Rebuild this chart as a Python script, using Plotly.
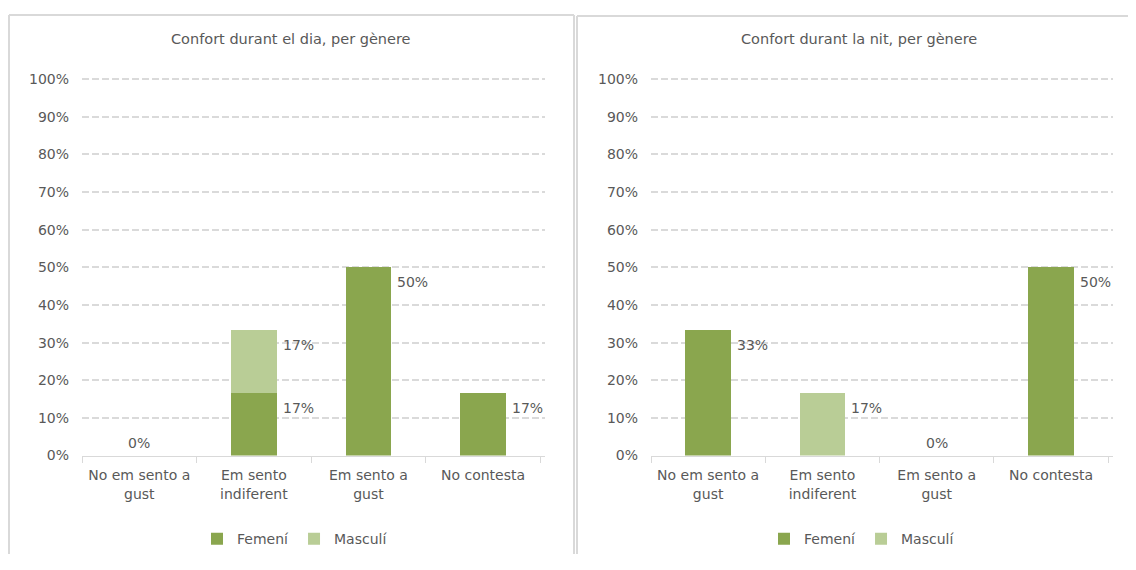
import plotly.graph_objects as go

categories = ["No em sento a<br>gust", "Em sento<br>indiferent", "Em sento a<br>gust", "No contesta"]

dia_femeni = [0, 16.67, 50.0, 16.67]
dia_masculi = [0, 16.67, 0, 0]
nit_femeni = [33.33, 0, 0, 50.0]
nit_masculi = [0, 16.67, 0, 0]

titles = ["Confort durant el dia, per gènere", "Confort durant la nit, per gènere"]
series_names = ["Femení", "Masculí"]
colors = ["#8AA64E", "#B9CD96"]
yticks = list(range(0, 101, 10))
ytick_text = [f"{v}%" for v in yticks]

FONT = "DejaVu Sans"
FS = 14
TXT = "#595959"
OFF = 8
W, H = 1136 - 2 * OFF, 570 - 2 * OFF
# vertical mapping observed in the photographed page
OY, SY = 12.5, 0.979

def px(x_img):
    return max(0.0, min(1.0, (x_img - OFF) / W))

def py(y_img):
    return max(0.0, min(1.0, 1 - ((y_img - OY) / SY) / H))

fig = go.Figure()

panels = [
    dict(data=[dia_femeni, dia_masculi], xa="x", ya="y", legend="legend", dom=[px(82), px(545)]),
    dict(data=[nit_femeni, nit_masculi], xa="x2", ya="y2", legend="legend2", dom=[px(651), px(1113)]),
]

annotations = []
for pi, p in enumerate(panels):
    for si, vals in enumerate(p["data"]):
        fig.add_trace(go.Bar(
            x=categories, y=vals, name=series_names[si],
            marker=dict(color=colors[si], line=dict(width=0)),
            xaxis=p["xa"], yaxis=p["ya"], legend=p["legend"],
            hoverinfo="skip",
        ))
    fem, mas = p["data"]
    for ci, cat in enumerate(categories):
        total = fem[ci] + mas[ci]
        if total == 0:
            annotations.append(dict(
                x=cat, y=0, xref=p["xa"], yref=p["ya"], text="0%",
                showarrow=False, xanchor="center", yanchor="middle", yshift=13,
                font=dict(family=FONT, size=FS, color=TXT)))
            continue
        cum = 0
        for vals in (fem, mas):
            v = vals[ci]
            cum += v
            if v > 0:
                annotations.append(dict(
                    x=cat, y=cum, xref=p["xa"], yref=p["ya"], text=f"{round(v)}%",
                    showarrow=False, xanchor="left", yanchor="middle",
                    xshift=27, yshift=-15,
                    font=dict(family=FONT, size=FS, color=TXT)))

for t, cx in zip(titles, [291, 859]):
    annotations.append(dict(
        x=px(cx), y=py(38), xref="paper", yref="paper", text=t,
        showarrow=False, xanchor="center", yanchor="middle",
        font=dict(family=FONT, size=14.5, color=TXT)))

axis_common_x = dict(
    type="category", showgrid=False, showline=True, linecolor="#D9D9D9", linewidth=1,
    ticks="outside", tickson="boundaries", ticklen=6, tickcolor="#D9D9D9",
    tickfont=dict(family=FONT, size=FS, color=TXT), fixedrange=True,
    ticklabelstandoff=7, tickangle=0,
)
axis_common_y = dict(
    range=[0, 100.5], tickvals=yticks, ticktext=ytick_text,
    showgrid=True, gridcolor="#DADADA", gridwidth=2, griddash="7px,3px",
    zeroline=False, showline=False, ticks="",
    tickfont=dict(family=FONT, size=FS, color=TXT), fixedrange=True,
    ticklabelstandoff=12,
)
ydom = [py(456), py(456 - 378 * 1.005)]

shapes = []
border = dict(color="#D9D9D9", width=2)
def seg(x0, y0, x1, y1):
    shapes.append(dict(type="line", xref="paper", yref="paper",
                       x0=px(x0), y0=py(y0), x1=px(x1), y1=py(y1), line=border))
seg(9, 13.5, 574, 13.5)
seg(9, 13.5, 9, 575)
seg(574, 13.5, 574, 575)
seg(577, 14.5, 1136, 14.5)
seg(577, 14.5, 577, 575)

legend_common = dict(
    orientation="h", xanchor="center", yanchor="middle", y=py(540),
    font=dict(family=FONT, size=FS, color=TXT), bgcolor="rgba(0,0,0,0)",
    itemwidth=30, traceorder="normal", itemclick=False, itemdoubleclick=False,
)

fig.update_layout(
    width=W, height=H, autosize=False,
    margin=dict(l=0, r=0, t=0, b=0),
    paper_bgcolor="white", plot_bgcolor="white",
    barmode="stack", bargap=0.6,
    xaxis=dict(domain=panels[0]["dom"], anchor="y", **axis_common_x),
    yaxis=dict(domain=ydom, anchor="x", **axis_common_y),
    xaxis2=dict(domain=panels[1]["dom"], anchor="y2", **axis_common_x),
    yaxis2=dict(domain=ydom, anchor="x2", **axis_common_y),
    legend=dict(x=px(295), **legend_common),
    legend2=dict(x=px(862), **legend_common),
    annotations=annotations,
    shapes=shapes,
    font=dict(family=FONT, color=TXT),
    showlegend=True,
)

fig.write_html("out.html", config={"displayModeBar": False})
